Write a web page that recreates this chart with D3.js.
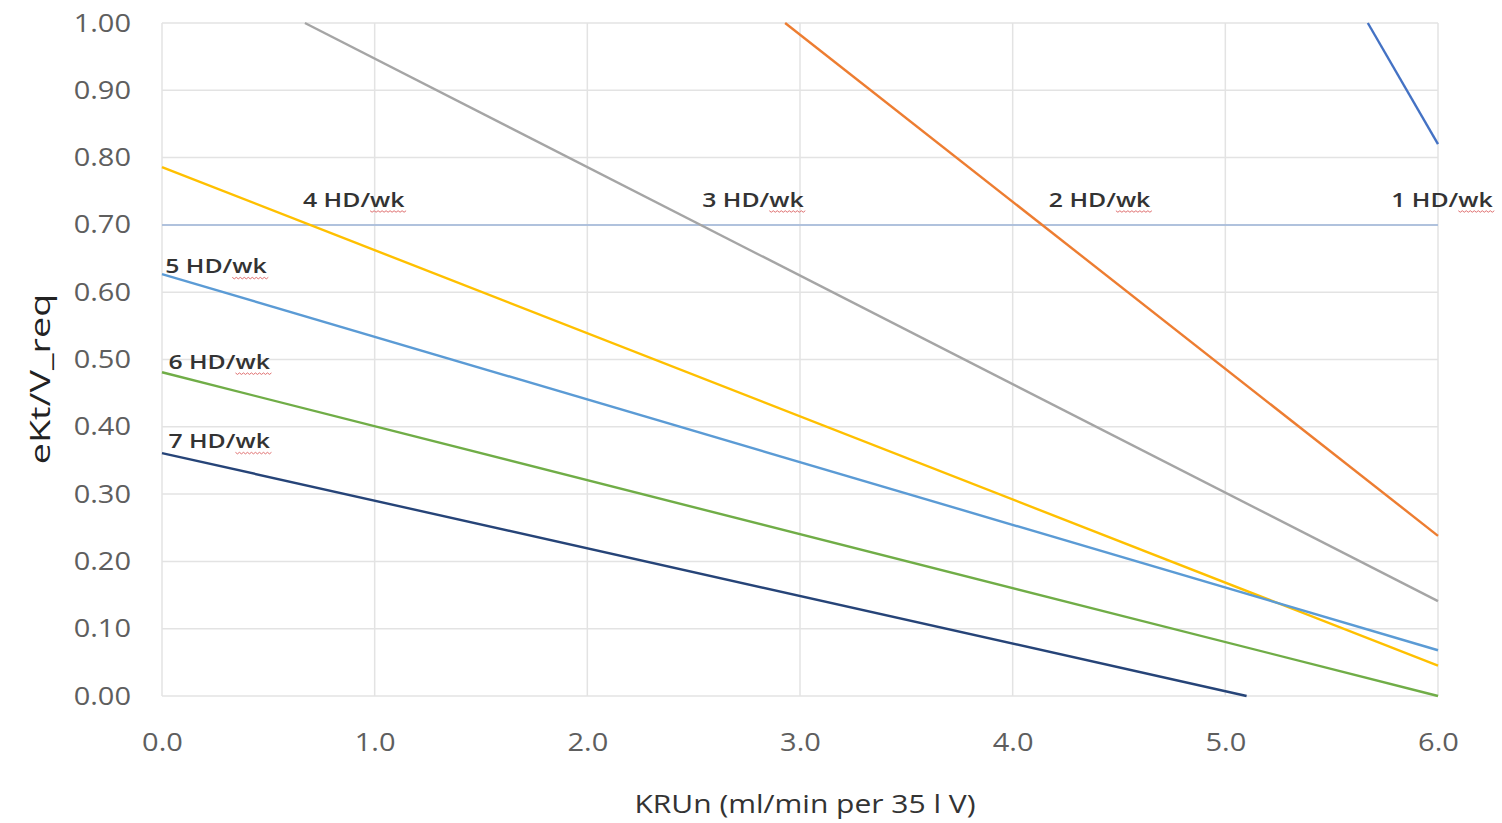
<!DOCTYPE html>
<html>
<head>
<meta charset="utf-8">
<script src="https://cdn.jsdelivr.net/npm/d3@7"></script>
<style>
  body { margin: 0; background: #fff; }
  svg { display: block; font-family: "Open Sans", "Noto Sans", sans-serif; }
</style>
</head>
<body>
<div id="chart"></div>
<script>
// x ticks / y ticks
const xTicks = [0, 1, 2, 3, 4, 5, 6];
const yTicks = [0, 0.1, 0.2, 0.3, 0.4, 0.5, 0.6, 0.7, 0.8, 0.9, 1.0];

// each series: [x, eKt/V] points (clipped to the plot)
const hd1 = [[5.67, 1.00], [6.0, 0.82]];
const hd2 = [[2.93, 1.00], [6.0, 0.238]];
const hd3 = [[0.672, 1.00], [6.0, 0.141]];
const hd4 = [[0, 0.786], [6.0, 0.045]];
const hd5 = [[0, 0.627], [6.0, 0.068]];
const hd6 = [[0, 0.481], [6.0, 0.0]];
const hd7 = [[0, 0.361], [5.10, 0.0]];
const target = [[0, 0.70], [6.0, 0.70]];

const seriesNames = ["1 HD/wk", "2 HD/wk", "3 HD/wk", "4 HD/wk", "5 HD/wk", "6 HD/wk", "7 HD/wk"];
const seriesValues = [hd1, hd2, hd3, hd4, hd5, hd6, hd7];
const seriesColors = ["#4472C4", "#ED7D31", "#A5A5A5", "#FFC000", "#5B9BD5", "#70AD47", "#264478"];

// label anchors (data units, left edge / baseline)
const labelX = [5.78, 4.17, 2.54, 0.663, 0.015, 0.03, 0.03];
const labelY = [0.727, 0.727, 0.727, 0.727, 0.628, 0.486, 0.368];

const width = 1502, height = 823;
const margin = {top: 23, right: 64, bottom: 127, left: 162};
const innerW = width - margin.left - margin.right;
const innerH = height - margin.top - margin.bottom;

// text in the picture is a bit wider than the installed fonts
const tickStretch = 1.16;
const labelStretch = 1.24;

const svg = d3.select("#chart").append("svg")
    .attr("width", width)
    .attr("height", height);

const g = svg.append("g")
    .attr("transform", "translate(" + margin.left + "," + margin.top + ")");

const x = d3.scaleLinear().domain([0, 6]).range([0, innerW]);
const y = d3.scaleLinear().domain([0, 1]).range([innerH, 0]);

// gridlines
g.append("g").selectAll("line")
    .data(yTicks)
    .enter().append("line")
        .attr("x1", 0).attr("x2", innerW)
        .attr("y1", d => y(d)).attr("y2", d => y(d))
        .attr("stroke", "#e3e3e3")
        .attr("stroke-width", 1.5);
g.append("g").selectAll("line")
    .data(xTicks)
    .enter().append("line")
        .attr("x1", d => x(d)).attr("x2", d => x(d))
        .attr("y1", 0).attr("y2", innerH)
        .attr("stroke", "#e3e3e3")
        .attr("stroke-width", 1.5);

// axes (labels only, no domain/ticks)
const yAxis = d3.axisLeft(y).tickValues(yTicks).tickFormat(d3.format(".2f")).tickSize(0);
const xAxis = d3.axisBottom(x).tickValues(xTicks).tickFormat(d3.format(".1f")).tickSize(0);

g.append("g").call(yAxis)
    .call(s => s.select(".domain").remove())
    .selectAll("text")
        .attr("x", 0)
        .attr("transform", "translate(-31,0) scale(" + tickStretch + ",1)")
        .style("font-size", "25px")
        .style("fill", "#5e5e5e")
        .style("font-family", "\"Open Sans\", sans-serif");
g.append("g")
    .attr("transform", "translate(0," + innerH + ")")
    .call(xAxis)
    .call(s => s.select(".domain").remove())
    .selectAll("text")
        .attr("y", 0)
        .attr("dy", "0")
        .attr("transform", "translate(0,55) scale(" + tickStretch + ",1)")
        .style("font-size", "25px")
        .style("fill", "#5e5e5e")
        .style("font-family", "\"Open Sans\", sans-serif");

// target line
const line = d3.line().x(d => x(d[0])).y(d => y(d[1]));
g.append("path")
    .datum(target)
    .attr("d", line)
    .attr("fill", "none")
    .attr("stroke", "#9db4d8")
    .attr("stroke-width", 1.5);

// series
g.selectAll(".series")
    .data(seriesValues)
    .enter().append("path")
        .attr("class", "series")
        .attr("d", line)
        .attr("fill", "none")
        .attr("stroke", (d, i) => seriesColors[i])
        .attr("stroke-width", 2.4);

// labels with spell-check squiggle under "wk"
seriesNames.forEach((name, i) => {
    const lx = x(labelX[i]), ly = y(labelY[i]);
    const t = g.append("text")
        .attr("transform", "translate(" + lx + "," + ly + ") scale(" + labelStretch + ",1)")
        .style("font-size", "20px")
        .style("font-weight", 600)
        .style("fill", "#333")
        .text(name);
    const node = t.node();
    const start = node.getSubStringLength(0, name.length - 2) * labelStretch;
    const w = node.getSubStringLength(name.length - 2, 2) * labelStretch;
    const x0 = lx + start;
    const y0 = ly + 4;
    let p = "M" + x0 + "," + y0;
    for (let k = 0, sx = x0; sx < x0 + w; k++) {
        sx += 2;
        p += " L" + sx + "," + (y0 + (k % 2 === 0 ? 1.5 : 0));
    }
    g.append("path")
        .attr("d", p)
        .attr("fill", "none")
        .attr("stroke", "#e07070")
        .attr("stroke-width", 1);
});

// axis titles
svg.append("text")
    .attr("transform", "translate(50," + 379 + ") rotate(-90) scale(1.4,1)")
    .attr("text-anchor", "middle")
    .style("font-size", "27px")
    .style("fill", "#222")
    .text("eKt/V_req");

svg.append("text")
    .attr("transform", "translate(" + (margin.left + innerW / 2 + 5) + ",813) scale(1.2,1)")
    .attr("text-anchor", "middle")
    .style("font-size", "25px")
    .style("fill", "#333")
    .text("KRUn (ml/min per 35 l  V)");
</script>
</body>
</html>
